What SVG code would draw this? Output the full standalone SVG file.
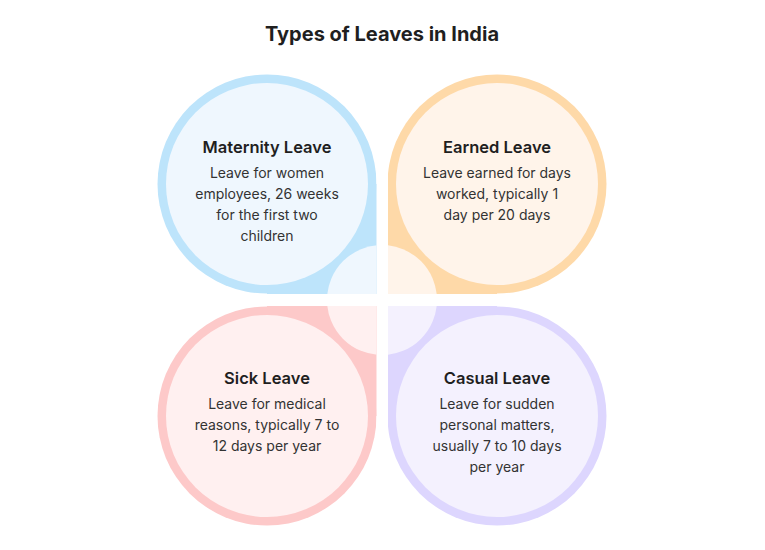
<svg xmlns="http://www.w3.org/2000/svg" width="765" height="550" viewBox="0 0 765 550">
<style>
text{font-family:Inter,Roboto,"Liberation Sans",sans-serif;text-anchor:middle;fill:#1f1f1f}
.t{font-size:20px;font-weight:700}
.h{font-size:16.5px;font-weight:600}
.b{font-size:14px;fill:#333}
</style>
<defs>
<clipPath id="cTL"><rect x="150" y="60" width="226.5" height="234"/></clipPath>
<clipPath id="cTR"><rect x="388" y="60" width="230" height="234"/></clipPath>
<clipPath id="cBL"><rect x="150" y="306" width="226.5" height="230"/></clipPath>
<clipPath id="cBR"><rect x="388" y="306" width="230" height="230"/></clipPath>
</defs>
<rect width="765" height="550" fill="#fff"/>
<text class="t" x="382" y="41">Types of Leaves in India</text>
<g id="maternity" clip-path="url(#cTL)">
<circle cx="267" cy="184" r="109.5" fill="#bde4fb"/><rect x="267" y="184" width="110" height="110" fill="#bde4fb"/>
<circle cx="267" cy="184" r="101" fill="#eff7fe"/><circle cx="382" cy="300" r="55" fill="#eff7fe"/>
</g>
<g id="earned" clip-path="url(#cTR)">
<circle cx="497" cy="184" r="109.5" fill="#fed9a8"/><rect x="387" y="184" width="110" height="110" fill="#fed9a8"/>
<circle cx="497" cy="184" r="101" fill="#fff4ea"/><circle cx="382" cy="300" r="55" fill="#fff4ea"/>
</g>
<g id="sick" clip-path="url(#cBL)">
<circle cx="267" cy="416" r="109.5" fill="#fdc9c9"/><rect x="267" y="306" width="110" height="110" fill="#fdc9c9"/>
<circle cx="267" cy="416" r="101" fill="#fff0f0"/><circle cx="382" cy="300" r="55" fill="#fff0f0"/>
</g>
<g id="casual" clip-path="url(#cBR)">
<circle cx="497" cy="416" r="109.5" fill="#ddd6fe"/><rect x="387" y="306" width="110" height="110" fill="#ddd6fe"/>
<circle cx="497" cy="416" r="101" fill="#f4f1fe"/><circle cx="382" cy="300" r="55" fill="#f4f1fe"/>
</g>
<g id="labels">
<text class="h" x="267" y="153">Maternity Leave</text>
<text class="b" x="267" y="178">Leave for women</text>
<text class="b" x="267" y="199">employees, 26 weeks</text>
<text class="b" x="267" y="220">for the first two</text>
<text class="b" x="267" y="241">children</text>
<text class="h" x="497" y="153">Earned Leave</text>
<text class="b" x="497" y="178">Leave earned for days</text>
<text class="b" x="497" y="199">worked, typically 1</text>
<text class="b" x="497" y="220">day per 20 days</text>
<text class="h" x="267" y="384">Sick Leave</text>
<text class="b" x="267" y="409">Leave for medical</text>
<text class="b" x="267" y="430">reasons, typically 7 to</text>
<text class="b" x="267" y="451">12 days per year</text>
<text class="h" x="497" y="384">Casual Leave</text>
<text class="b" x="497" y="409">Leave for sudden</text>
<text class="b" x="497" y="430">personal matters,</text>
<text class="b" x="497" y="451">usually 7 to 10 days</text>
<text class="b" x="497" y="472">per year</text>
</g>
<g id="connectors"/>
</svg>
